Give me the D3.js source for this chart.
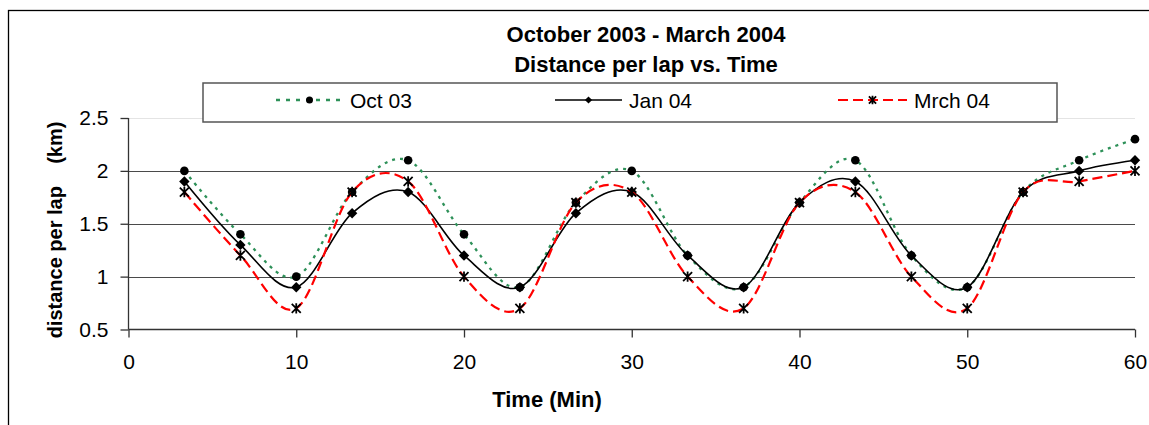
<!DOCTYPE html>
<html>
<head>
<meta charset="utf-8">
<script src="https://cdn.jsdelivr.net/npm/d3@7"></script>
<style>
  body { margin: 0; background: #fff; }
  svg { display: block; }
  text { font-family: Arial, "Liberation Sans", sans-serif; fill: #000; }
</style>
</head>
<body>
<svg id="chart" width="1149" height="425"></svg>
<script>
// time of each lap reading (min)
const minutes = [3.33, 6.67, 10, 13.33, 16.67, 20, 23.33, 26.67, 30, 33.33, 36.67, 40, 43.33, 46.67, 50, 53.33, 56.67, 60];
// distance per lap (km)
const oct03 = [2.0, 1.4, 1.0, 1.8, 2.1, 1.4, 0.9, 1.7, 2.0, 1.2, 0.9, 1.7, 2.1, 1.2, 0.9, 1.8, 2.1, 2.3];
const jan04 = [1.9, 1.3, 0.9, 1.6, 1.8, 1.2, 0.9, 1.6, 1.8, 1.2, 0.9, 1.7, 1.9, 1.2, 0.9, 1.8, 2.0, 2.1];
const mrch04 = [1.8, 1.2, 0.7, 1.8, 1.9, 1.0, 0.7, 1.7, 1.8, 1.0, 0.7, 1.7, 1.8, 1.0, 0.7, 1.8, 1.9, 2.0];
const seriesNames = ['Oct 03', 'Jan 04', 'Mrch 04'];
const xTicks = [0, 10, 20, 30, 40, 50, 60];
const yTicks = [0.5, 1, 1.5, 2, 2.5];

const svg = d3.select('#chart');
const plot = { left: 128.5, right: 1135, top: 118, bottom: 329.5 };

const x = d3.scaleLinear().domain([0, 60]).range([plot.left, plot.right]);
const y = d3.scaleLinear().domain([0.5, 2.5]).range([plot.bottom, plot.top]);

// outer chart frame (runs off right / bottom edge)
svg.append('rect')
    .attr('x', 8.5).attr('y', 10.5)
    .attr('width', 1200).attr('height', 500)
    .attr('fill', '#fff')
    .attr('stroke', '#000').attr('stroke-width', 1.3);

// title
const title = svg.append('text')
    .attr('text-anchor', 'middle')
    .style('font-weight', 'bold')
    .style('font-size', '22px');
title.append('tspan').attr('x', 646).attr('y', 41.5).text('October 2003 - March 2004');
title.append('tspan').attr('x', 646).attr('y', 71.5).text('Distance per lap vs. Time');

// gridlines
svg.append('g')
    .selectAll('line')
    .data(yTicks.filter(d => d > 0.5))
    .join('line')
    .attr('x1', plot.left).attr('x2', plot.right)
    .attr('y1', d => Math.round(y(d)) + 0.5).attr('y2', d => Math.round(y(d)) + 0.5)
    .attr('stroke', d => d === 2.5 ? '#e4e4e4' : '#4a4a4a')
    .attr('stroke-width', 1.2);

// axes
const xAxis = svg.append('g')
    .attr('transform', `translate(0,${plot.bottom})`)
    .call(d3.axisBottom(x).tickValues(xTicks).tickSize(8).tickPadding(17).tickFormat(d3.format('d')));
const yAxis = svg.append('g')
    .attr('transform', `translate(${plot.left},0)`)
    .call(d3.axisLeft(y).tickValues(yTicks).tickSize(8).tickPadding(12).tickFormat(d => d));

[xAxis, yAxis].forEach(ax => {
    ax.select('.domain').attr('stroke', '#333').attr('stroke-width', 1.3);
    ax.selectAll('.tick line').attr('stroke', '#333').attr('stroke-width', 1.3);
    ax.selectAll('.tick text')
        .attr('fill', '#000')
        .style('font-family', 'Arial, "Liberation Sans", sans-serif')
        .style('font-size', '21px');
});
xAxis.select('.domain').attr('d', `M${plot.left},0H${plot.right}`);
yAxis.select('.domain').attr('d', `M0,${plot.top}V${plot.bottom}`);

// axis titles
svg.append('text')
    .attr('x', 547).attr('y', 407)
    .attr('text-anchor', 'middle')
    .style('font-weight', 'bold').style('font-size', '22px')
    .text('Time (Min)');
svg.append('text')
    .attr('transform', 'translate(61.5,230) rotate(-90)')
    .attr('text-anchor', 'middle')
    .style('font-weight', 'bold').style('font-size', '20px')
    .style('white-space', 'pre')
    .text('distance per lap    (km)');

// marker shapes
function starPath(s) {
    return `M${-s},${-s}L${s},${s}M${-s},${s}L${s},${-s}M0,${-s * 1.15}L0,${s * 1.15}`;
}
function drawMarker(g, kind, size) {
    if (kind === 'circle') {
        g.append('circle').attr('r', size).attr('fill', '#000');
    } else if (kind === 'diamond') {
        g.append('path').attr('d', `M0,${-size}L${size},0L0,${size}L${-size},0Z`).attr('fill', '#000');
    } else {
        g.append('path').attr('d', starPath(size)).attr('stroke', '#000').attr('stroke-width', 1.8).attr('fill', 'none');
    }
}

const series = [
    { name: seriesNames[0], values: oct03, color: '#2e9159', dash: '3,5', width: 2.3, marker: 'circle', ms: 4.3 },
    { name: seriesNames[1], values: jan04, color: '#000', dash: null, width: 1.6, marker: 'diamond', ms: 5.2 },
    { name: seriesNames[2], values: mrch04, color: '#ff0000', dash: '10,5', width: 2.2, marker: 'star', ms: 4.5 }
];

const line = d3.line()
    .x(d => x(d[0]))
    .y(d => y(d[1]))
    .curve(d3.curveCardinal.tension(0));

series.forEach(s => {
    const pts = minutes.map((m, i) => [m, s.values[i]]);
    svg.append('path')
        .datum(pts)
        .attr('d', line)
        .attr('fill', 'none')
        .attr('stroke', s.color)
        .attr('stroke-width', s.width)
        .attr('stroke-dasharray', s.dash);
    svg.append('g')
        .selectAll('g')
        .data(pts)
        .join('g')
        .attr('transform', d => `translate(${x(d[0])},${y(d[1])})`)
        .each(function () { drawMarker(d3.select(this), s.marker, s.ms); });
});

// legend
const legend = svg.append('g');
legend.append('rect')
    .attr('x', 203).attr('y', 83)
    .attr('width', 854).attr('height', 39)
    .attr('fill', '#fff')
    .attr('stroke', '#555').attr('stroke-width', 1.5);

const legendPos = [
    { x1: 276, x2: 343, tx: 350 },
    { x1: 555, x2: 622, tx: 629 },
    { x1: 838, x2: 907, tx: 914 }
];
series.forEach((s, i) => {
    const p = legendPos[i];
    legend.append('line')
        .attr('x1', p.x1).attr('x2', p.x2).attr('y1', 100).attr('y2', 100)
        .attr('stroke', s.color)
        .attr('stroke-width', s.width)
        .attr('stroke-dasharray', s.marker === 'circle' ? '4,6' : s.dash);
    const mg = legend.append('g').attr('transform', `translate(${(p.x1 + p.x2) / 2},100)`);
    drawMarker(mg, s.marker, s.marker === 'circle' ? 3.5 : 3.6);
    legend.append('text')
        .attr('x', p.tx).attr('y', 107.5)
        .style('font-size', '21px')
        .text(s.name);
});
</script>
</body>
</html>
